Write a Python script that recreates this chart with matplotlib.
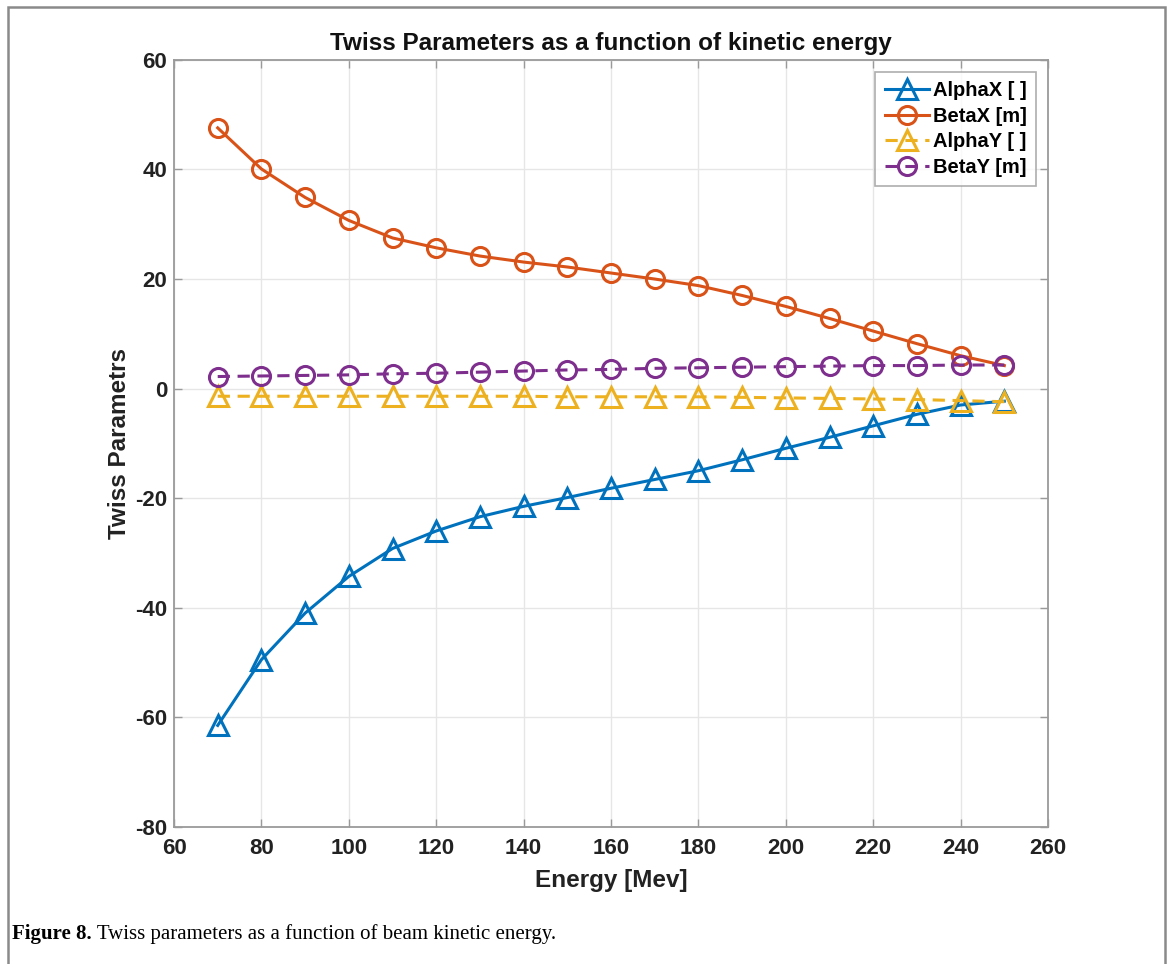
import numpy as np
import matplotlib
matplotlib.use("Agg")
import matplotlib.pyplot as plt
from matplotlib.patches import Rectangle

# Twiss parameters vs. beam kinetic energy
energy = [70, 80, 90, 100, 110, 120, 130, 140, 150, 160,
          170, 180, 190, 200, 210, 220, 230, 240, 250]
alpha_x = [-61.5, -49.5, -41.0, -34.3, -29.2, -26.0, -23.4, -21.5, -19.9, -18.2,
           -16.6, -15.0, -13.0, -10.9, -8.9, -6.8, -4.7, -3.0, -2.3]
beta_x = [47.6, 40.1, 34.9, 30.7, 27.5, 25.7, 24.2, 23.1, 22.2, 21.1,
          20.0, 18.8, 17.0, 15.0, 12.8, 10.5, 8.2, 6.0, 4.2]
alpha_y = [-1.4, -1.4, -1.4, -1.4, -1.4, -1.4, -1.4, -1.4, -1.5, -1.5,
           -1.5, -1.5, -1.6, -1.7, -1.8, -1.9, -2.0, -2.2, -2.4]
beta_y = [2.2, 2.3, 2.4, 2.5, 2.7, 2.8, 3.0, 3.2, 3.4, 3.5,
          3.7, 3.8, 3.9, 4.0, 4.1, 4.2, 4.2, 4.3, 4.3]

series = [
    ("AlphaX [ ]", alpha_x, "#0072BD", "^", "-"),
    ("BetaX [m]", beta_x, "#D95319", "o", "-"),
    ("AlphaY [ ]", alpha_y, "#EDB120", "^", "--"),
    ("BetaY [m]", beta_y, "#7E2F8E", "o", "--"),
]

plt.rcParams["font.family"] = ["Liberation Sans", "DejaVu Sans"]
plt.rcParams["axes.unicode_minus"] = False

fig = plt.figure(figsize=(11.71, 9.64), dpi=100)
ax = fig.add_axes([0.1486, 0.1424, 0.7464, 0.7954])

for label, vals, color, marker, ls in series:
    ax.plot(energy, vals, color=color, linestyle=ls, linewidth=2.2,
            marker=marker, markersize=13 if marker == "o" else 14,
            markerfacecolor="none", markeredgewidth=2.2,
            dashes=(4, 2.5) if ls == "--" else (None, None),
            label=label, zorder=3)

ax.set_xlim(60, 260)
ax.set_ylim(-80, 60)
ax.set_xticks(np.arange(60, 261, 20))
ax.set_yticks(np.arange(-80, 61, 20))
ax.grid(True, color="#e6e6e6", linewidth=1.0, zorder=0)
ax.set_axisbelow(True)

for sp in ax.spines.values():
    sp.set_color("#9a9a9a")
    sp.set_linewidth(1.3)
ax.tick_params(direction="in", length=6, width=1.0, color="#9a9a9a",
               top=True, right=True, labelsize=16, labelcolor="#222222")
ax.tick_params(axis="x", pad=8)
ax.tick_params(axis="y", pad=5)
for lbl in ax.get_xticklabels() + ax.get_yticklabels():
    lbl.set_fontweight("bold")

ax.set_title("Twiss Parameters as a function of kinetic energy",
             fontsize=17.5, fontweight="bold", color="#111111", pad=7)
ax.set_xlabel("Energy [Mev]", fontsize=17.5, fontweight="bold",
              color="#222222", labelpad=7)
ax.set_ylabel("Twiss Parametrs", fontsize=17.5, fontweight="bold",
              color="#222222", labelpad=3)

leg = ax.legend(loc="upper right", bbox_to_anchor=(0.986, 0.984),
                prop={"weight": "bold", "size": 14.5}, frameon=True,
                fancybox=False, handlelength=2.2, handletextpad=0.2,
                borderpad=0.45, labelspacing=0.32, borderaxespad=0)
leg.get_frame().set_edgecolor("#9a9a9a")
leg.get_frame().set_linewidth(1.2)

# page frame around the figure
fig.patches.append(Rectangle((8 / 1171, -0.02), 1157 / 1171, 1.02 - 7 / 964,
                             transform=fig.transFigure, fill=False,
                             edgecolor="#8a8a8a", linewidth=1.8))

# caption: bold figure number followed by regular text
cap = fig.text(12 / 1171, 1 - 934 / 964, "Figure 8.", fontsize=15,
               fontweight="bold", family=["Liberation Serif"],
               va="center", ha="left")
ax.annotate(" Twiss parameters as a function of beam kinetic energy.",
            xy=(1, 0), xycoords=cap, va="bottom", ha="left",
            fontsize=15, family=["Liberation Serif"], annotation_clip=False)

fig.savefig("out.png", dpi=100)
